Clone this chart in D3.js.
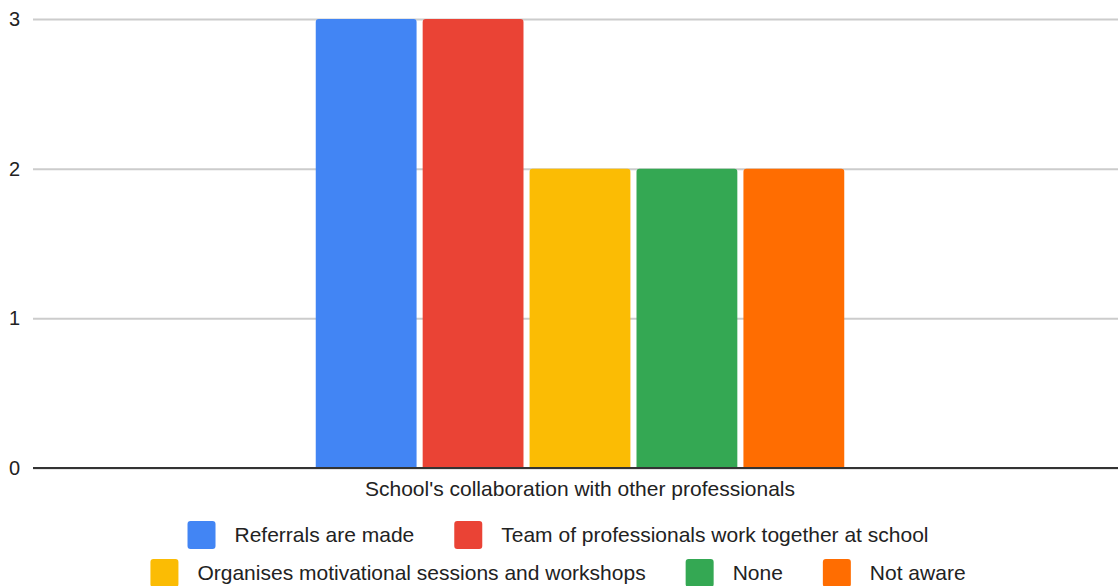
<!DOCTYPE html>
<html>
<head>
<meta charset="utf-8">
<script src="https://cdn.jsdelivr.net/npm/d3@7"></script>
<style>
  html, body { margin: 0; padding: 0; background: #fff; }
  svg { display: block; font-family: "Liberation Sans", Arial, sans-serif; }
</style>
</head>
<body>
<svg id="chart" width="1118" height="586"></svg>
<script>
// Chart data
const categories = ["School's collaboration with other professionals"];
const seriesNames = [
  "Referrals are made",
  "Team of professionals work together at school",
  "Organises motivational sessions and workshops",
  "None",
  "Not aware"
];
const seriesValues = [3, 3, 2, 2, 2];
const seriesColors = ["#4285f4", "#ea4335", "#fbbc04", "#34a853", "#ff6d01"];
const yTicks = [0, 1, 2, 3];

const svg = d3.select("#chart");
const W = 1118;

// Plot area
const plot = { left: 33, right: 1127, top: 19, bottom: 468 };

const y = d3.scaleLinear().domain([0, 3]).range([plot.bottom, plot.top]);

const x0 = d3.scaleBand()
  .domain(categories)
  .range([plot.left, plot.right])
  .paddingInner(0)
  .paddingOuter(0.535);

const x1 = d3.scaleBand()
  .domain(seriesNames)
  .range([0, x0.bandwidth()])
  .paddingInner(0.057)
  .paddingOuter(0);

// Gridlines and tick labels
const yAxis = d3.axisLeft(y)
  .tickValues(yTicks)
  .tickSize(-(W - plot.left))
  .tickPadding(13)
  .tickFormat(d3.format("d"));

const gy = svg.append("g")
  .attr("transform", `translate(${plot.left},0)`)
  .call(yAxis);
gy.select(".domain").remove();
gy.selectAll(".tick line")
  .attr("stroke", "#cccccc")
  .attr("stroke-width", 2);
gy.selectAll(".tick text")
  .attr("fill", "#222")
  .attr("font-size", 20);

// Bars with slightly rounded tops
const r = 3;
function barPath(x, yTop, w, h) {
  return `M${x},${yTop + h} V${yTop + r} Q${x},${yTop} ${x + r},${yTop} H${x + w - r} Q${x + w},${yTop} ${x + w},${yTop + r} V${yTop + h} Z`;
}

const group = svg.append("g")
  .attr("transform", `translate(${x0(categories[0])},0)`);

group.selectAll("path.bar")
  .data(seriesNames.map((name, i) => ({ name, value: seriesValues[i], color: seriesColors[i] })))
  .join("path")
  .attr("class", "bar")
  .attr("fill", d => d.color)
  .attr("d", d => barPath(x1(d.name), y(d.value), x1.bandwidth(), y(0) - y(d.value)));

// Baseline
svg.append("line")
  .attr("x1", plot.left).attr("x2", W)
  .attr("y1", y(0)).attr("y2", y(0))
  .attr("stroke", "#333")
  .attr("stroke-width", 2);

// Category label
svg.append("text")
  .attr("x", x0(categories[0]) + x0.bandwidth() / 2)
  .attr("y", 496)
  .attr("text-anchor", "middle")
  .attr("font-size", 21)
  .attr("fill", "#222")
  .text(categories[0]);

// Legend, two centred rows
const legendRows = [[0, 1], [2, 3, 4]];
const rowY = [535, 573];
const sw = 28, gapText = 19, gapItem = 40, legendCenter = 558;

legendRows.forEach((row, ri) => {
  const g = svg.append("g");
  let cx = 0;
  row.forEach(i => {
    const item = g.append("g").attr("transform", `translate(${cx},0)`);
    item.append("rect")
      .attr("x", 0).attr("y", rowY[ri] - sw / 2)
      .attr("width", sw).attr("height", sw)
      .attr("rx", 3)
      .attr("fill", seriesColors[i]);
    const t = item.append("text")
      .attr("x", sw + gapText)
      .attr("y", rowY[ri])
      .attr("dy", "0.35em")
      .attr("font-size", 21)
      .attr("fill", "#222")
      .text(seriesNames[i]);
    cx += sw + gapText + t.node().getComputedTextLength() + gapItem;
  });
  const total = cx - gapItem;
  g.attr("transform", `translate(${legendCenter - total / 2},0)`);
});
</script>
</body>
</html>
